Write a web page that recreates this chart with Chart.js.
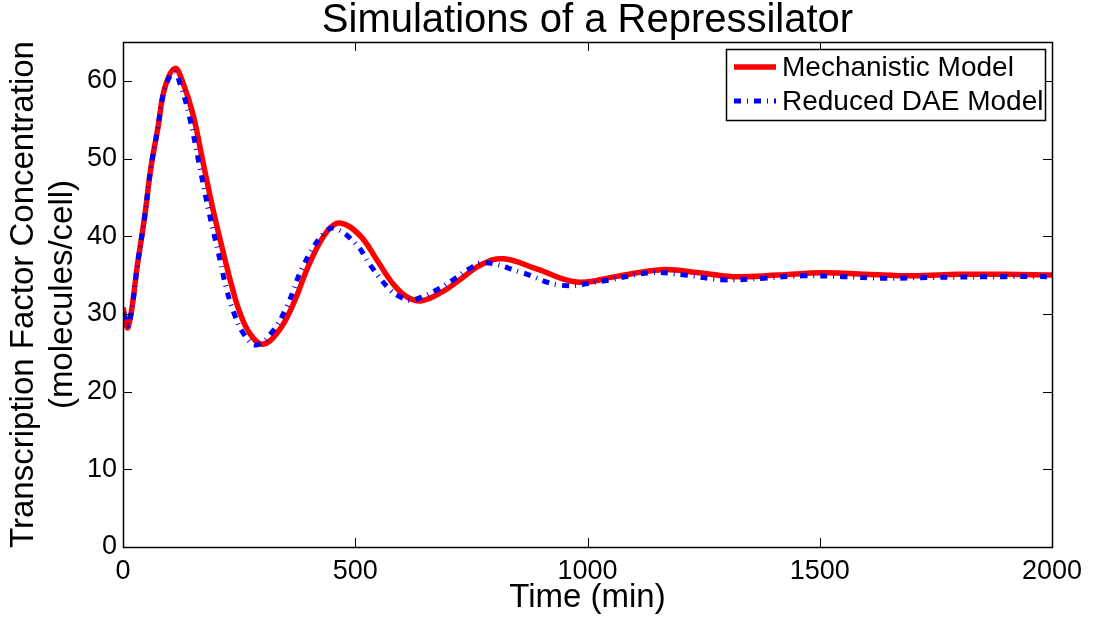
<!DOCTYPE html>
<html>
<head>
<meta charset="utf-8">
<script src="https://cdn.jsdelivr.net/npm/chart.js@4.4.1/dist/chart.umd.min.js"></script>
<style>
  html, body { margin: 0; padding: 0; background: #fff; }
  #wrap { width: 1093px; height: 621px; }
</style>
</head>
<body>
<div id="wrap"><canvas id="repChart" width="1093" height="621"></canvas></div>
<script>
// values
const mechTime = [0, 11, 32, 47, 60, 75, 90, 112, 130, 151, 172, 194, 220, 235, 252, 273, 301, 335, 366, 403, 439, 467, 510, 547, 581, 611, 643, 689, 725, 770, 818, 890, 977, 1060, 1160, 1240, 1313, 1410, 1507, 1600, 1700, 1800, 1900, 2000];
const mechConc = [30.8, 28.3, 36.7, 42.7, 48.8, 53.9, 59.1, 61.6, 59.6, 55.6, 49.6, 43.4, 36.9, 33.4, 30.1, 27.5, 26.1, 27.8, 31.2, 36.7, 40.6, 41.7, 40.1, 36.9, 33.9, 32.2, 31.7, 32.9, 34.4, 36.3, 37.1, 35.8, 34.1, 34.8, 35.7, 35.3, 34.8, 35.0, 35.3, 35.1, 34.9, 35.1, 35.1, 35.0];

const daeTime = [0, 12, 32, 47, 60, 75, 90, 110, 124, 143, 163, 184, 209, 222, 239, 259, 286, 320, 353, 388, 431, 456, 503, 532, 575, 600, 624, 676, 711, 745, 779, 860, 941, 1030, 1135, 1210, 1290, 1380, 1464, 1550, 1636, 1750, 1900, 2000];
const daeConc = [30.1, 28.6, 36.7, 42.7, 48.8, 53.9, 59.0, 61.1, 59.4, 55.4, 49.6, 43.4, 36.9, 33.4, 30.1, 27.5, 26.0, 27.6, 31.0, 36.2, 40.3, 41.0, 38.9, 36.3, 33.1, 32.1, 31.8, 33.1, 34.4, 35.8, 36.6, 35.3, 33.7, 34.2, 35.3, 35.0, 34.4, 34.6, 34.9, 34.8, 34.6, 34.7, 34.8, 34.8];

const xTicks = [0, 500, 1000, 1500, 2000];
const yTicks = [0, 10, 20, 30, 40, 50, 60];
const seriesNames = ['Mechanistic Model', 'Reduced DAE Model'];

const FONT = '"Liberation Sans", Arial, Helvetica, sans-serif';
const blueDash = [7, 6, 1, 6];

// box round the plot, ticks pointing inwards, legend
const matlabFrame = {
    id: 'matlabFrame',
    afterDraw(chart) {
        const ctx = chart.ctx;
        const a = chart.chartArea;
        const xs = chart.scales.x, ys = chart.scales.y;
        const tl = 9;
        ctx.save();
        ctx.strokeStyle = '#000';
        ctx.lineWidth = 1;
        ctx.beginPath();
        xs.ticks.forEach(t => {
            const px = Math.round(xs.getPixelForValue(t.value)) + 0.5;
            ctx.moveTo(px, a.bottom); ctx.lineTo(px, a.bottom - tl);
            ctx.moveTo(px, a.top); ctx.lineTo(px, a.top + tl);
        });
        ys.ticks.forEach(t => {
            const py = Math.round(ys.getPixelForValue(t.value)) + 0.5;
            ctx.moveTo(a.left, py); ctx.lineTo(a.left + tl, py);
            ctx.moveTo(a.right, py); ctx.lineTo(a.right - tl, py);
        });
        ctx.stroke();
        ctx.lineWidth = 1.5;
        ctx.strokeRect(Math.round(a.left) + 0.5, Math.round(a.top) + 0.5,
                       Math.round(a.right - a.left), Math.round(a.bottom - a.top));

        // legend
        const lx = a.right - 326, ly = a.top + 7, lw = 319, lh = 71;
        ctx.fillStyle = '#fff';
        ctx.fillRect(lx, ly, lw, lh);
        ctx.lineWidth = 1.5;
        ctx.strokeRect(lx + 0.5, ly + 0.5, lw, lh);
        const rows = [ly + 18, ly + 52];
        ctx.font = '28px ' + FONT;
        ctx.textBaseline = 'middle';
        ctx.textAlign = 'left';
        chart.data.datasets.forEach((ds, i) => {
            ctx.save();
            ctx.strokeStyle = ds.borderColor;
            ctx.lineWidth = ds.borderWidth;
            ctx.setLineDash(ds.borderDash || []);
            ctx.beginPath();
            ctx.moveTo(lx + 8, rows[i]);
            ctx.lineTo(lx + 50, rows[i]);
            ctx.stroke();
            ctx.restore();
            ctx.fillStyle = '#000';
            ctx.fillText(ds.label, lx + 56, rows[i] + 1);
        });
        ctx.restore();
    }
};

new Chart(document.getElementById('repChart'), {
    type: 'line',
    data: {
        datasets: [
            {
                label: seriesNames[0],
                data: mechTime.map((t, i) => ({ x: t, y: mechConc[i] })),
                borderColor: '#FF0000',
                borderWidth: 5.5,
                pointRadius: 0,
                tension: 0.4,
                order: 1
            },
            {
                label: seriesNames[1],
                data: daeTime.map((t, i) => ({ x: t, y: daeConc[i] })),
                borderColor: '#0000FF',
                borderWidth: 5,
                borderDash: blueDash,
                pointRadius: 0,
                tension: 0.4,
                order: 0
            }
        ]
    },
    options: {
        responsive: false,
        animation: false,
        devicePixelRatio: 1,
        layout: { padding: { left: 0, right: 41, top: 0, bottom: 0 } },
        scales: {
            x: {
                type: 'linear',
                min: 0,
                max: 2000,
                afterBuildTicks: s => { s.ticks = xTicks.map(v => ({ value: v })); },
                afterFit: s => { s.height = 74; },
                grid: { display: false, drawTicks: false },
                border: { display: false },
                ticks: { color: '#000', padding: 8, maxRotation: 0, font: { family: FONT, size: 27 },
                         callback: v => String(v) },
                title: {
                    display: true,
                    text: 'Time (min)',
                    color: '#000',
                    padding: { top: 0, bottom: 3 },
                    font: { family: FONT, size: 33 }
                }
            },
            // top axis only carries the title so it is centred over the plot box
            xTop: {
                type: 'linear',
                position: 'top',
                min: 0,
                max: 2000,
                afterFit: s => { s.height = 42; },
                grid: { display: false, drawTicks: false },
                border: { display: false },
                ticks: { display: false },
                title: {
                    display: true,
                    text: 'Simulations of a Repressilator',
                    color: '#000',
                    padding: { top: 1, bottom: 0 },
                    font: { family: FONT, size: 40, lineHeight: 1.0 }
                }
            },
            y: {
                min: 0,
                max: 65,
                afterBuildTicks: s => { s.ticks = yTicks.map(v => ({ value: v })); },
                afterFit: s => { s.width = 123; },
                grid: { display: false, drawTicks: false },
                border: { display: false },
                ticks: { color: '#000', padding: 6, font: { family: FONT, size: 27 } },
                title: {
                    display: true,
                    text: ['Transcription Factor Concentration', '(molecules/cell)'],
                    color: '#000',
                    padding: { top: 4, bottom: 0 },
                    font: { family: FONT, size: 33, lineHeight: 1.2 }
                }
            }
        },
        plugins: {
            legend: { display: false },
            tooltip: { enabled: false },
            title: { display: false }
        }
    },
    plugins: [matlabFrame]
});
</script>
</body>
</html>
